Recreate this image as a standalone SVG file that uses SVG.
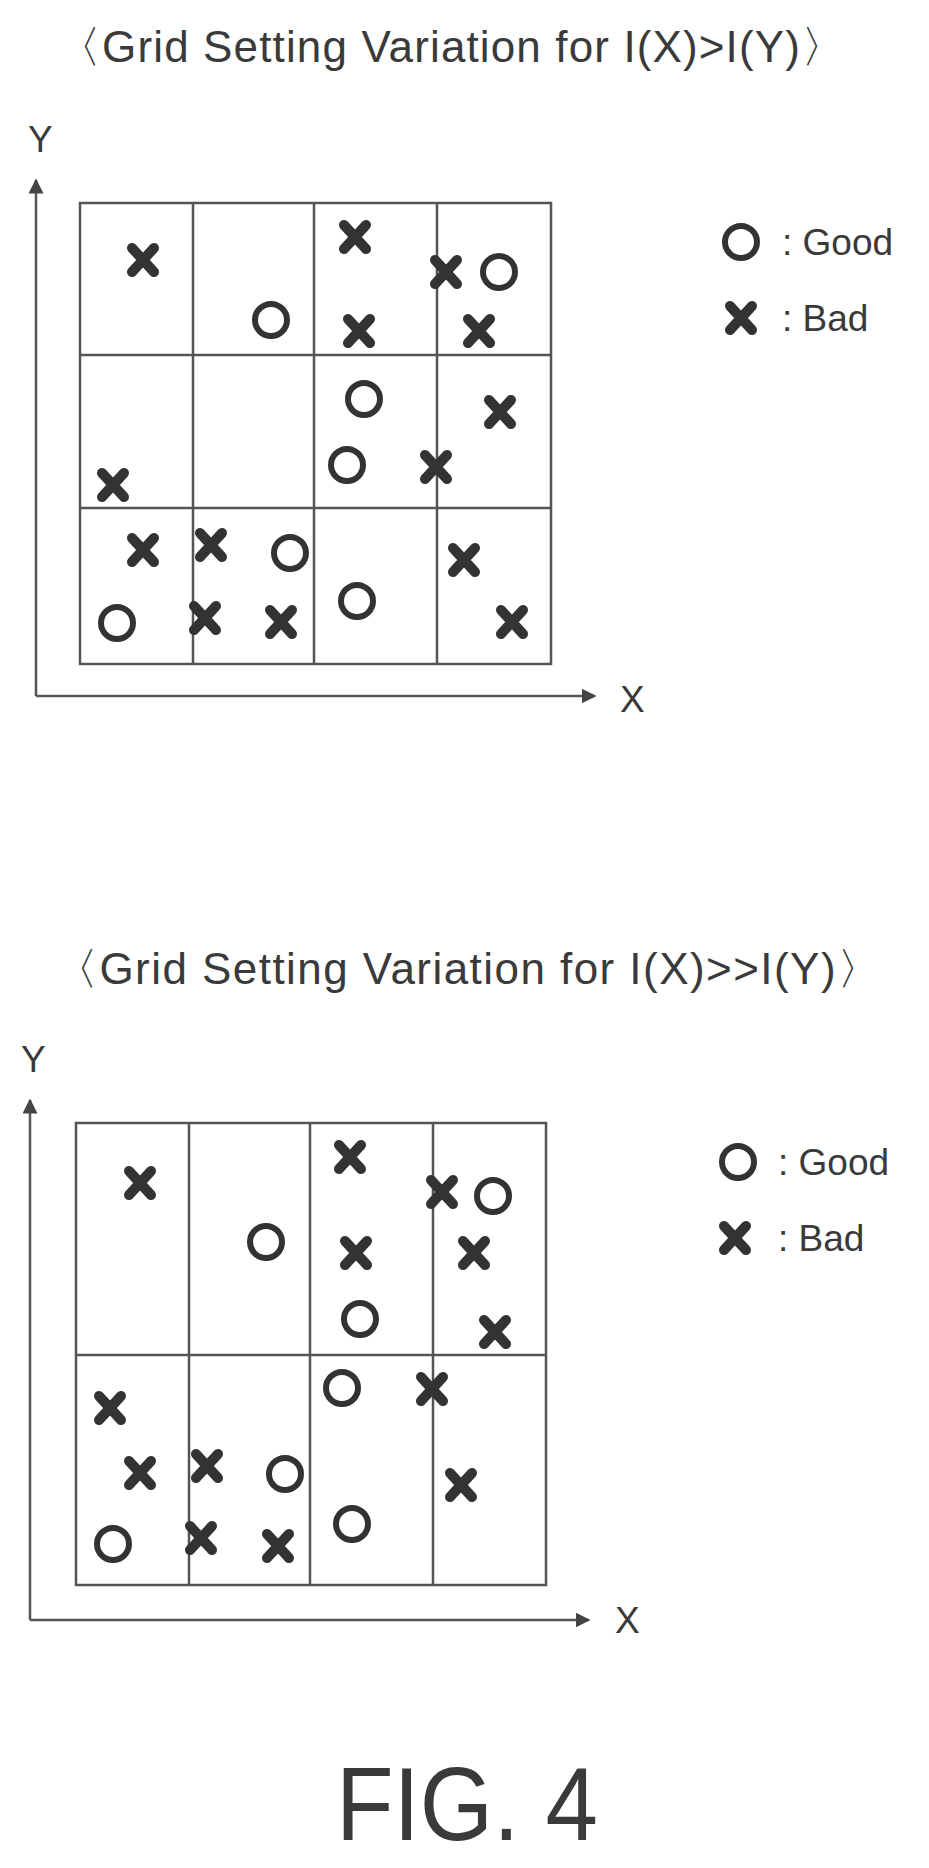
<svg xmlns="http://www.w3.org/2000/svg" width="929" height="1868" viewBox="0 0 929 1868">
<style>
text{font-family:"Liberation Sans",Arial,sans-serif;fill:#3a3a3a}
.t{font-size:44px}
.l{font-size:37px}
.g{fill:none;stroke:#555;stroke-width:2.5}
.ax{fill:none;stroke:#555;stroke-width:2.5}
.o{fill:none;stroke:#333;stroke-width:6}
.x{fill:none;stroke:#333;stroke-width:10;stroke-linecap:round}
</style>
<defs>
<marker id="ah" viewBox="0 0 10 10" refX="9" refY="5" markerWidth="6" markerHeight="6" orient="auto"><path d="M0,0 L10,5 L0,10 z" fill="#444"/></marker>
<circle id="O" r="16" class="o"/>
<path id="X" d="M-11,-12 L11,12 M11,-12 L-11,12" class="x"/>
</defs>
<g id="panel1">
<text class="t" x="57" y="62" textLength="788">〈Grid Setting Variation for I(X)&gt;I(Y)〉</text>
<text class="l" x="28" y="152">Y</text>
<text class="l" x="620" y="712">X</text>
<g id="connectors1">
<path class="ax" d="M36,696 L36,180" marker-end="url(#ah)"/>
<path class="ax" d="M36,696 L595,696" marker-end="url(#ah)"/>
</g>
<g id="grid1">
<rect class="g" x="80" y="203" width="471" height="461"/>
<path class="g" d="M193,203V664M314,203V664M437,203V664M80,355H551M80,508H551"/>
</g>
<g id="marks1">
<use href="#X" x="143" y="260"/><use href="#O" x="271" y="320"/>
<use href="#X" x="355" y="237"/><use href="#X" x="359" y="331"/>
<use href="#X" x="446" y="272"/><use href="#O" x="499" y="272"/>
<use href="#X" x="479" y="331"/><use href="#O" x="364" y="399"/>
<use href="#X" x="500" y="412"/><use href="#X" x="113" y="485"/>
<use href="#O" x="347" y="465"/><use href="#X" x="436" y="467"/>
<use href="#X" x="143" y="550"/><use href="#X" x="211" y="545"/>
<use href="#O" x="290" y="553"/><use href="#X" x="464" y="560"/>
<use href="#O" x="117" y="623"/><use href="#X" x="205" y="618"/>
<use href="#X" x="281" y="622"/><use href="#O" x="357" y="601"/>
<use href="#X" x="512" y="622"/>
</g>
<g id="legend1">
<use href="#O" x="741" y="242"/><text class="l" x="782" y="255">: Good</text>
<use href="#X" x="741" y="318"/><text class="l" x="782" y="331">: Bad</text>
</g>
</g>
<g id="panel2">
<text class="t" x="54" y="984" textLength="827">〈Grid Setting Variation for I(X)&gt;&gt;I(Y)〉</text>
<text class="l" x="21" y="1072">Y</text>
<text class="l" x="615" y="1633">X</text>
<g id="connectors2">
<path class="ax" d="M30,1620 L30,1100" marker-end="url(#ah)"/>
<path class="ax" d="M30,1620 L589,1620" marker-end="url(#ah)"/>
</g>
<g id="grid2">
<rect class="g" x="76" y="1123" width="470" height="462"/>
<path class="g" d="M189,1123V1585M310,1123V1585M433,1123V1585M76,1355H546"/>
</g>
<g id="marks2">
<use href="#X" x="140" y="1183"/><use href="#O" x="266" y="1242"/>
<use href="#X" x="350" y="1157"/><use href="#X" x="442" y="1192"/>
<use href="#O" x="493" y="1196"/><use href="#X" x="356" y="1253"/>
<use href="#X" x="474" y="1253"/><use href="#O" x="360" y="1319"/>
<use href="#X" x="495" y="1332"/><use href="#O" x="342" y="1388"/>
<use href="#X" x="432" y="1389"/><use href="#X" x="110" y="1408"/>
<use href="#X" x="140" y="1473"/><use href="#X" x="207" y="1466"/>
<use href="#O" x="285" y="1474"/><use href="#X" x="461" y="1485"/>
<use href="#O" x="113" y="1544"/><use href="#X" x="201" y="1538"/>
<use href="#X" x="278" y="1546"/><use href="#O" x="352" y="1524"/>
</g>
<g id="legend2">
<use href="#O" x="738" y="1162"/><text class="l" x="778" y="1175">: Good</text>
<use href="#X" x="735" y="1238"/><text class="l" x="778" y="1251">: Bad</text>
</g>
</g>
<text x="336" y="1840" style="font-size:104px" textLength="262" lengthAdjust="spacingAndGlyphs">FIG. 4</text>
</svg>
